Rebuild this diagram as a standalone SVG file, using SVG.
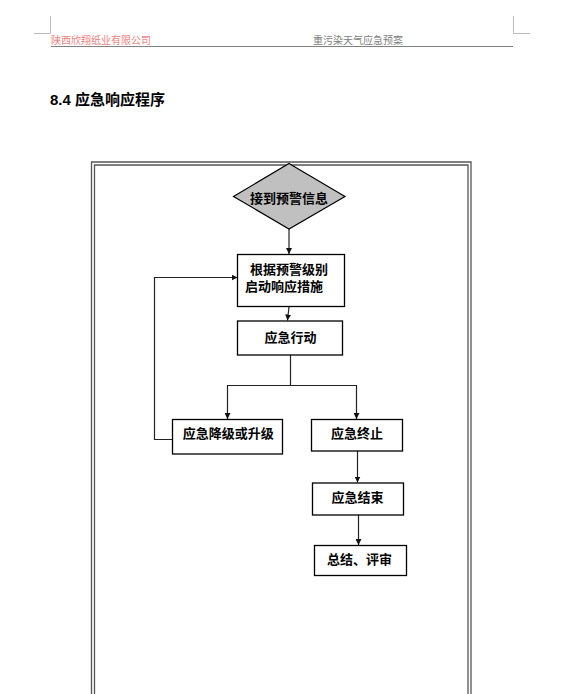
<svg xmlns="http://www.w3.org/2000/svg" width="566" height="694" viewBox="0 0 566 694">
<defs>
<style>
.t{font-family:"Liberation Sans","Noto Sans CJK SC",sans-serif;font-weight:bold;font-size:13px;fill:#000}
.box{fill:#fff;stroke:#000;stroke-width:1.3}
.c{fill:none;stroke:#222;stroke-width:1.2}
.crop{fill:none;stroke:#bbb;stroke-width:1}
</style>
<marker id="ah" viewBox="0 0 8 8" refX="8" refY="4" markerWidth="6" markerHeight="6" markerUnits="userSpaceOnUse" orient="auto">
<path d="M0,0 L8,4 L0,8 z" fill="#111"/>
</marker>
</defs>
<rect width="566" height="694" fill="#fff"/>
<!-- header -->
<g id="header">
<path class="crop" d="M50.5,16 V33.5 H34 M513.5,16 V33.5 H530"/>
<text x="51" y="44" style="font-family:'Liberation Sans','Noto Sans CJK SC',sans-serif;font-size:10px;fill:#f27f7f">陕西欣翔纸业有限公司</text>
<text x="313" y="44" style="font-family:'Liberation Sans','Noto Sans CJK SC',sans-serif;font-size:10px;fill:#808080">重污染天气应急预案</text>
<line x1="51" y1="46.5" x2="513" y2="46.5" stroke="#808080" stroke-width="1"/>
</g>
<text id="title" x="50" y="105" style="font-family:'Liberation Sans','Noto Sans CJK SC',sans-serif;font-weight:bold;font-size:15px;fill:#000">8.4 应急响应程序</text>
<!-- frame -->
<g id="frame" fill="none" stroke="#555" stroke-width="1.3">
<path d="M91.5,700 V162 H471 V700"/>
<path d="M94.5,700 V165 H468 V700"/>
</g>
<!-- connectors -->
<g id="connectors">
<line class="c" x1="289" y1="229" x2="289" y2="254" marker-end="url(#ah)"/>
<line class="c" x1="289" y1="307" x2="287.5" y2="320.5" marker-end="url(#ah)"/>
<path class="c" d="M290.5,355 V385.5 H227.5 V419" marker-end="url(#ah)"/>
<path class="c" d="M290.5,385.5 H356.5 V419" marker-end="url(#ah)"/>
<path class="c" d="M172.5,439.5 H154.5 V277.5 H237.5" marker-end="url(#ah)"/>
<line class="c" x1="357.5" y1="451" x2="357.5" y2="482.5" marker-end="url(#ah)"/>
<line class="c" x1="358.5" y1="515" x2="358.5" y2="545" marker-end="url(#ah)"/>
</g>
<!-- nodes -->
<g id="n_receive">
<polygon points="289,163.5 345,196.5 289,229 233.5,196.5" fill="#c0c0c0" stroke="#000" stroke-width="1.2"/>
<text class="t" x="289" y="202.5" text-anchor="middle">接到预警信息</text>
</g>
<g id="n_start">
<rect class="box" x="237.5" y="254.5" width="107" height="52"/>
<text class="t" x="250" y="273.5">根据预警级别</text>
<text class="t" x="245" y="291">启动响应措施</text>
</g>
<g id="n_action">
<rect class="box" x="237.5" y="321" width="105" height="34"/>
<text class="t" x="290.5" y="342" text-anchor="middle">应急行动</text>
</g>
<g id="n_adjust">
<rect class="box" x="172.5" y="419.5" width="110" height="34.5"/>
<text class="t" x="228.3" y="438" text-anchor="middle">应急降级或升级</text>
</g>
<g id="n_stop">
<rect class="box" x="311.5" y="419.5" width="91" height="31.5"/>
<text class="t" x="357" y="438" text-anchor="middle">应急终止</text>
</g>
<g id="n_end">
<rect class="box" x="312.5" y="483" width="91" height="32"/>
<text class="t" x="357.5" y="502" text-anchor="middle">应急结束</text>
</g>
<g id="n_review">
<rect class="box" x="314.5" y="545.5" width="92" height="30"/>
<text class="t" x="359.5" y="564" text-anchor="middle">总结、评审</text>
</g>
</svg>
